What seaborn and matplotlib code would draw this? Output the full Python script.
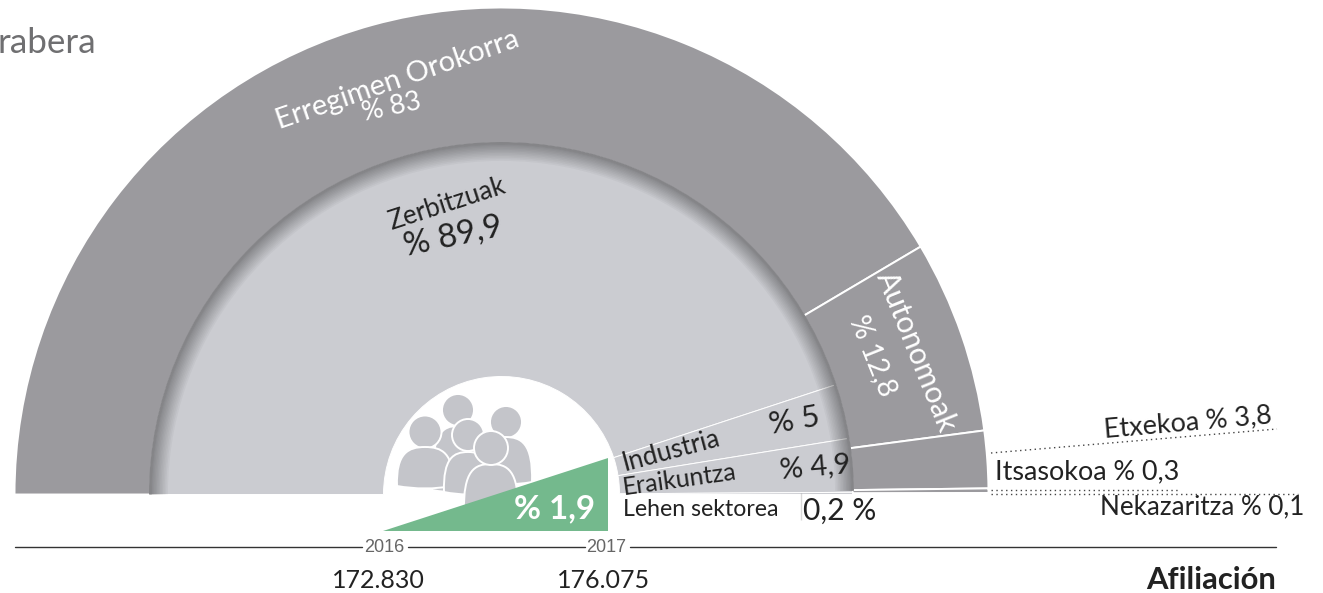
import numpy as np
import matplotlib
matplotlib.use("Agg")
import matplotlib.pyplot as plt
from matplotlib.patches import Wedge, Circle, PathPatch, Polygon
from matplotlib.path import Path
import seaborn as sns

# ---- data ----
regimes = ["Erregimen Orokorra", "Autonomoak", "Etxekoa", "Itsasokoa", "Nekazaritza"]
regime_shares = [83, 12.8, 3.8, 0.3, 0.1]
sectors = ["Zerbitzuak", "Industria", "Eraikuntza", "Lehen sektorea"]
sector_shares = [89.9, 5, 4.9, 0.2]
years = ["2016", "2017"]
affiliates = ["172.830", "176.075"]
growth = 1.9

OUTER = "#9b9a9e"
INNER = "#cbccd1"
GREEN = "#74b98d"
ICON = "#c4c5ca"
FONT = "Lato"

sns.set_theme(style="white")
plt.rcParams["font.family"] = [FONT, "DejaVu Sans"]

W, H = 1323, 593
fig = plt.figure(figsize=(W / 100, H / 100), dpi=100)
ax = fig.add_axes([0, 0, 1, 1])

Y = lambda py: H - py
CX, CY = 501.5, Y(494.5)
R_OUT, R_MID, R_HOLE = 487, 351, 118


def half_pie(values, colors, radius, width, lw):
    wedges, _ = ax.pie(list(values) + [sum(values)], colors=colors + ["white"],
                       radius=radius, center=(CX, CY), startangle=180,
                       counterclock=False, frame=True,
                       wedgeprops=dict(width=width, edgecolor="white", linewidth=lw))
    wedges[-1].set_visible(False)


half_pie(regime_shares, [OUTER] * len(regime_shares), R_OUT, R_OUT - R_MID, 1.4)
half_pie(sector_shares, [INNER] * len(sector_shares), R_MID, R_MID - R_HOLE, 0.7)

# soft inner shadow along the ring boundary
for i in range(1, 13):
    ax.add_patch(Wedge((CX, CY), R_MID, 0.6, 180, width=i ** 1.15, facecolor="black",
                       edgecolor="none", alpha=0.03, zorder=3))
# hides the white seam between both rings
ax.add_patch(Wedge((CX, CY), R_MID + 1.5, 0.6, 180, width=2.5, facecolor="#858588",
                   edgecolor="none", zorder=3.5))


def body(cx, top, bottom, hw, z):
    p = [(cx - hw, Y(bottom)),
         (cx - hw - 1, Y(top + 6)), (cx - hw * 0.6, Y(top)), (cx, Y(top)),
         (cx + hw * 0.6, Y(top)), (cx + hw + 1, Y(top + 6)), (cx + hw, Y(bottom)),
         (cx, Y(bottom + 5)), (cx - hw, Y(bottom))]
    codes = [Path.MOVETO] + [Path.CURVE4] * 6 + [Path.CURVE3] * 2
    ax.add_patch(PathPatch(Path(p, codes), facecolor=ICON, edgecolor="white", lw=1.4, zorder=z))


def head(cx, cy, r, z):
    ax.add_patch(Circle((cx, Y(cy)), r, facecolor=ICON, edgecolor="white", lw=1.4, zorder=z))


# people icon
head(458, 410, 16, 4); body(458, 426, 490, 26, 4)
head(506, 422, 16, 4); body(505, 437, 482, 27, 4)
head(425, 432, 16.5, 5); body(425, 447, 486, 28, 5)
body(468, 452, 492, 24, 6); head(468, 435, 16, 6)
body(491, 464, 512, 27, 7); head(491, 448, 17, 7)

# growth triangle
tri_left, tri_right, tri_base = 383, 608, 531
tri_top = tri_base - growth * 38.4
ax.add_patch(Polygon([(tri_left, Y(tri_base)), (tri_right, Y(tri_top)), (tri_right, Y(tri_base))],
                     closed=True, facecolor=GREEN, edgecolor="none", zorder=8))


def T(x, py, s, rot=0, px=24, color="#222222", weight="normal", ha="center", family=None, z=10):
    ax.text(x, Y(py), s, rotation=rot, rotation_mode="anchor", ha=ha, va="center",
            fontsize=px * 0.72, color=color, fontweight=weight, zorder=z,
            family=family if family else [FONT, "DejaVu Sans"])


def rule(xs, pys, ls="-", lw=1.0, color="#333333"):
    sns.lineplot(x=xs, y=[Y(v) for v in pys], ax=ax, color=color, linestyle=ls,
                 linewidth=lw, zorder=2, legend=False)


# baseline
rule([15, 362], [547, 547]); rule([408, 585], [547, 547]); rule([630, 1276], [547, 547])
# leaders
DOT = (0, (1, 2.5))
rule([991, 1277], [453, 429], ls=DOT, color="#444444")
rule([991, 1180], [489.5, 489.5], ls=DOT, color="#444444")
rule([991, 1298], [494, 494], ls=DOT, color="#444444")
rule([801, 801], [493, 520], ls=DOT, color="#444444")

# text
T(-2, 43, "rabera", px=35, color="#6f6f71", ha="left")
T(397, 80, regimes[0], 19, 29, "white")
T(392, 107, f"% {regime_shares[0]}", 12, 27, "white")
T(447, 204, sectors[0], 18, 26)
T(453, 236, "% 89,9", 12, 33)
T(916, 352, regimes[1], -68, 30, "white")
T(873, 356, "% 12,8", -68, 28, "white")
T(671, 451, sectors[1], 15, 26)
T(794, 421, f"% {sector_shares[1]}", 10, 31)
T(680, 480, sectors[2], 8, 25)
T(815, 467, "% 4,9", 5, 29)
T(701, 510, sectors[3], 0, 23)
T(840, 511, "0,2 %", 0, 30)
T(1188, 423, "Etxekoa % 3,8", 5, 27)
T(1087, 472, "Itsasokoa % 0,3", 0, 27)
T(1202, 507, "Nekazaritza % 0,1", 0, 26)
T(555, 509, "% 1,9", 0, 33, "white", "bold", z=11)
T(384, 547, years[0], 0, 18, "#666666", "normal", family="Liberation Sans")
T(606, 547, years[1], 0, 18, "#666666", "normal", family="Liberation Sans")
T(378, 580, affiliates[0], 0, 25)
T(604, 580, affiliates[1], 0, 25)
T(1276, 580, "Afiliación", 0, 31, "#222222", "bold", ha="right")

ax.set_xlim(0, W)
ax.set_ylim(0, H)
ax.set_aspect("auto")
ax.axis("off")
fig.savefig("out.png", dpi=100, facecolor="white")
